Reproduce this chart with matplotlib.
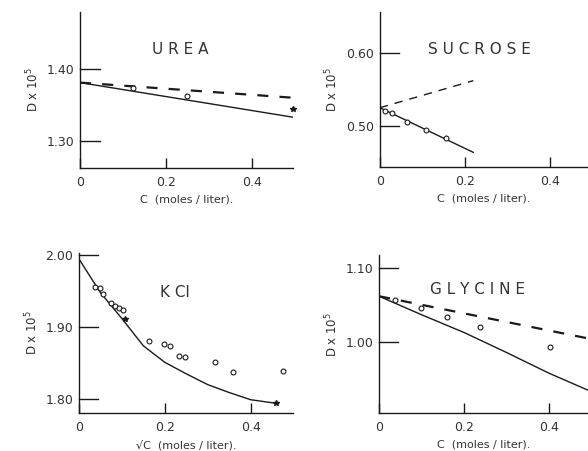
import matplotlib.pyplot as plt

# Urea
urea_line_x = [0.0, 0.495]
urea_solid_y = [1.381, 1.333]
urea_dash_y = [1.381, 1.360]
urea_pts_x = [0.123, 0.249]
urea_pts_y = [1.374, 1.363]
urea_star_x = [0.495]
urea_star_y = [1.345]

# Sucrose
suc_line_x = [0.0, 0.22]
suc_solid_y = [0.525, 0.464]
suc_dash_y = [0.525, 0.562]
suc_pts_x = [0.012, 0.028, 0.063, 0.108, 0.155]
suc_pts_y = [0.520, 0.518, 0.5055, 0.4945, 0.4836]

# KCl
kcl_curve_x = [0.0, 0.05, 0.1, 0.15, 0.2, 0.25, 0.3, 0.35, 0.4, 0.46]
kcl_curve_y = [1.995, 1.948, 1.912, 1.874, 1.851, 1.835, 1.820, 1.809, 1.799, 1.794]
kcl_pts_x = [0.037, 0.049, 0.057, 0.076, 0.084, 0.093, 0.102, 0.163, 0.198,
             0.212, 0.233, 0.247, 0.316, 0.359, 0.474]
kcl_pts_y = [1.956, 1.954, 1.946, 1.933, 1.929, 1.927, 1.924, 1.880, 1.877,
             1.873, 1.860, 1.858, 1.852, 1.838, 1.839]
kcl_star_x = [0.108, 0.458]
kcl_star_y = [1.911, 1.794]

# Glycine
gly_solid_x = [0.0, 0.1, 0.2, 0.3, 0.4, 0.492]
gly_solid_y = [1.062, 1.037, 1.013, 0.986, 0.958, 0.935]
gly_dash_x = [0.0, 0.492]
gly_dash_y = [1.062, 1.005]
gly_pts_x = [0.037, 0.100, 0.160, 0.238, 0.402]
gly_pts_y = [1.057, 1.0455, 1.034, 1.020, 0.993]

x_ticks = [0, 0.2, 0.4]
x_tick_labels = ['0', '0.2', '0.4']

plt.rcParams['font.family'] = 'DejaVu Sans'
fig = plt.figure(figsize=(5.88, 4.51), dpi=100)

ink = '#1a1a1a'


def setup(ax, xlim, ylim, yticks, ylabels, xlabel, title, title_xy):
    ax.set_xlim(*xlim)
    ax.set_ylim(*ylim)
    for s in ['top', 'right']:
        ax.spines[s].set_visible(False)
    for s in ['left', 'bottom']:
        ax.spines[s].set_linewidth(1.0)
        ax.spines[s].set_color(ink)
    ax.set_xticks(x_ticks)
    ax.set_xticklabels(x_tick_labels)
    ax.set_yticks(yticks)
    ax.set_yticklabels(ylabels)
    ax.tick_params(direction='in', length=7, width=1.0, colors=ink,
                   labelsize=9, labelcolor='#333333', pad=6)
    ax.tick_params(axis='y', direction='out', length=0, pad=4)
    # inward-right y ticks drawn as short lines
    for v in yticks:
        ax.plot([0, 0.045 * (xlim[1] - xlim[0]) / 0.49], [v, v], color=ink,
                lw=1.0, clip_on=False)
    ax.set_xlabel(xlabel, fontsize=8, color='#333333', labelpad=4)
    ax.set_ylabel('D x 10$^5$', fontsize=8.5, color='#333333', labelpad=4)
    ax.text(title_xy[0], title_xy[1], title, transform=ax.transAxes,
            fontsize=11, color='#333333', ha='center', va='center')
    ax.patch.set_alpha(0)


ax1 = fig.add_axes([0.136, 0.6275, 0.362, 0.346])
ax1.plot(urea_line_x, urea_solid_y, color=ink, lw=1.0)
ax1.plot(urea_line_x, urea_dash_y, color=ink, lw=1.6, dashes=(5, 5))
ax1.plot(urea_pts_x, urea_pts_y, 'o', mfc='white', mec=ink, ms=3.5, mew=0.8)
ax1.plot(urea_star_x, urea_star_y, '*', color=ink, ms=4, clip_on=False)
setup(ax1, (0, 0.495), (1.2625, 1.479), [1.30, 1.40], ['1.30', '1.40'],
      'C  (moles / liter).', 'U R E A', (0.47, 0.76))

ax2 = fig.add_axes([0.646, 0.6297, 0.354, 0.344])
ax2.plot(suc_line_x, suc_solid_y, color=ink, lw=1.0)
ax2.plot(suc_line_x, suc_dash_y, color=ink, lw=1.0, dashes=(6, 5))
ax2.plot(suc_pts_x, suc_pts_y, 'o', mfc='white', mec=ink, ms=3.5, mew=0.8)
setup(ax2, (0, 0.49), (0.444, 0.656), [0.50, 0.60], ['0.50', '0.60'],
      'C  (moles / liter).', 'S U C R O S E', (0.48, 0.76))

ax3 = fig.add_axes([0.134, 0.0843, 0.364, 0.355])
ax3.plot(kcl_curve_x, kcl_curve_y, color=ink, lw=1.0)
ax3.plot(kcl_pts_x, kcl_pts_y, 'o', mfc='white', mec=ink, ms=3.5, mew=0.8)
ax3.plot(kcl_star_x, kcl_star_y, '*', color=ink, ms=4)
setup(ax3, (0, 0.498), (1.7806, 2.003), [1.80, 1.90, 2.00],
      ['1.80', '1.90', '2.00'], '\u221aC  (moles / liter).', 'K Cl',
      (0.45, 0.75))

ax4 = fig.add_axes([0.6446, 0.0843, 0.355, 0.350])
ax4.plot(gly_solid_x, gly_solid_y, color=ink, lw=1.0)
ax4.plot(gly_dash_x, gly_dash_y, color=ink, lw=1.6, dashes=(5, 5))
ax4.plot(gly_pts_x, gly_pts_y, 'o', mfc='white', mec=ink, ms=3.5, mew=0.8)
setup(ax4, (0, 0.492), (0.904, 1.1176), [1.00, 1.10], ['1.00', '1.10'],
      'C  (moles / liter).', 'G L Y C I N E', (0.47, 0.78))

fig.savefig('out.png', dpi=100)
